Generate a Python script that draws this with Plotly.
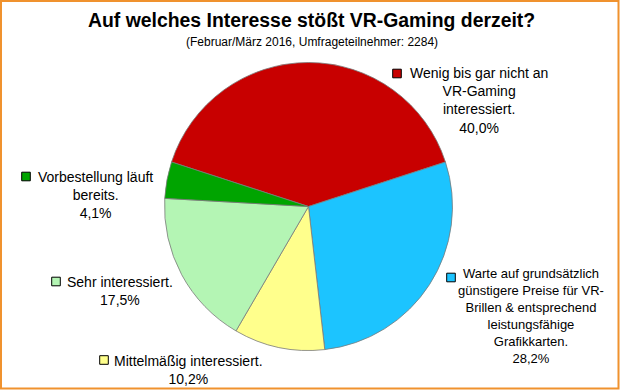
import plotly.graph_objects as go

# ---- data ----
categories = [
    "Wenig bis gar nicht an VR-Gaming interessiert.",
    "Warte auf grundsätzlich günstigere Preise für VR-Brillen & entsprechend leistungsfähige Grafikkarten.",
    "Mittelmäßig interessiert.",
    "Sehr interessiert.",
    "Vorbestellung läuft bereits.",
]
values = [40.0, 28.2, 10.2, 17.5, 4.1]
colors = ["#C80000", "#1CC4FF", "#FFFF8C", "#B4F5B4", "#00A400"]
label_lines = [
    ["Wenig bis gar nicht an", "VR-Gaming", "interessiert."],
    ["Warte auf grundsätzlich", "günstigere Preise für VR-", "Brillen & entsprechend",
     "leistungsfähige", "Grafikkarten."],
    ["Mittelmäßig interessiert."],
    ["Sehr interessiert."],
    ["Vorbestellung läuft", "bereits."],
]
title = "Auf welches Interesse stößt VR-Gaming derzeit?"
subtitle = "(Februar/März 2016, Umfrageteilnehmer: 2284)"

W, H = 620, 390
def px(x):
    return x / W
def py(y):
    return 1 - y / H

# label layout (pixel positions): text center x, center y, font size, marker center
label_pos = [
    (478.5, 101, 14, (397, 73.5)),
    (530.5, 316, 13, (451, 277.5)),
    (189, 369.5, 14, (104, 360)),
    (120, 291, 14, (56, 281.5)),
    (95, 195, 14, (26, 176.5)),
]

cx, cy, r = 308.5, 206.5, 144

fig = go.Figure(go.Pie(
    labels=categories,
    values=values,
    sort=False,
    direction="clockwise",
    rotation=-72,
    textinfo="none",
    hoverinfo="label+percent",
    marker=dict(colors=colors, line=dict(color="#7a7a7a", width=0.8)),
    domain=dict(x=[px(cx - r), px(cx + r)], y=[py(cy + r), py(cy - r)]),
    showlegend=False,
))

annotations = [
    dict(text="<b>" + title + "</b>", x=px(311), y=py(20), xref="paper", yref="paper",
         showarrow=False, xanchor="center", yanchor="middle",
         font=dict(family="Liberation Sans, Arial", size=19.4, color="#000000")),
    dict(text=subtitle, x=px(311.5), y=py(42), xref="paper", yref="paper",
         showarrow=False, xanchor="center", yanchor="middle",
         font=dict(family="Liberation Sans, Arial", size=12, color="#000000")),
]
shapes = [
    dict(type="rect", xref="paper", yref="paper", x0=px(1), x1=px(618.5), y0=py(388.5), y1=py(1),
         line=dict(color="#F0922E", width=2), fillcolor="rgba(0,0,0,0)"),
]

for lines, val, col, (tx, ty, fs, (mx, my)) in zip(label_lines, values, colors, label_pos):
    txt = "<br>".join(lines + [f"{val:.1f}".replace(".", ",") + "%"])
    annotations.append(dict(
        text=txt, x=px(tx), y=py(ty), xref="paper", yref="paper",
        showarrow=False, xanchor="center", yanchor="middle", align="center",
        font=dict(family="Liberation Sans, Arial", size=fs, color="#000000"),
    ))
    s = 4.3
    shapes.append(dict(type="rect", xref="paper", yref="paper",
                       x0=px(mx - s), x1=px(mx + s), y0=py(my + s), y1=py(my - s),
                       line=dict(color="#000000", width=1), fillcolor=col))

fig.update_layout(
    width=W, height=H,
    margin=dict(l=0, r=0, t=0, b=0),
    paper_bgcolor="#FFFFFF",
    plot_bgcolor="#FFFFFF",
    annotations=annotations,
    shapes=shapes,
)

fig.write_html("out.html",
               config={"displayModeBar": False},
               post_script="document.body.style.margin='0px';document.body.style.overflow='hidden';")
